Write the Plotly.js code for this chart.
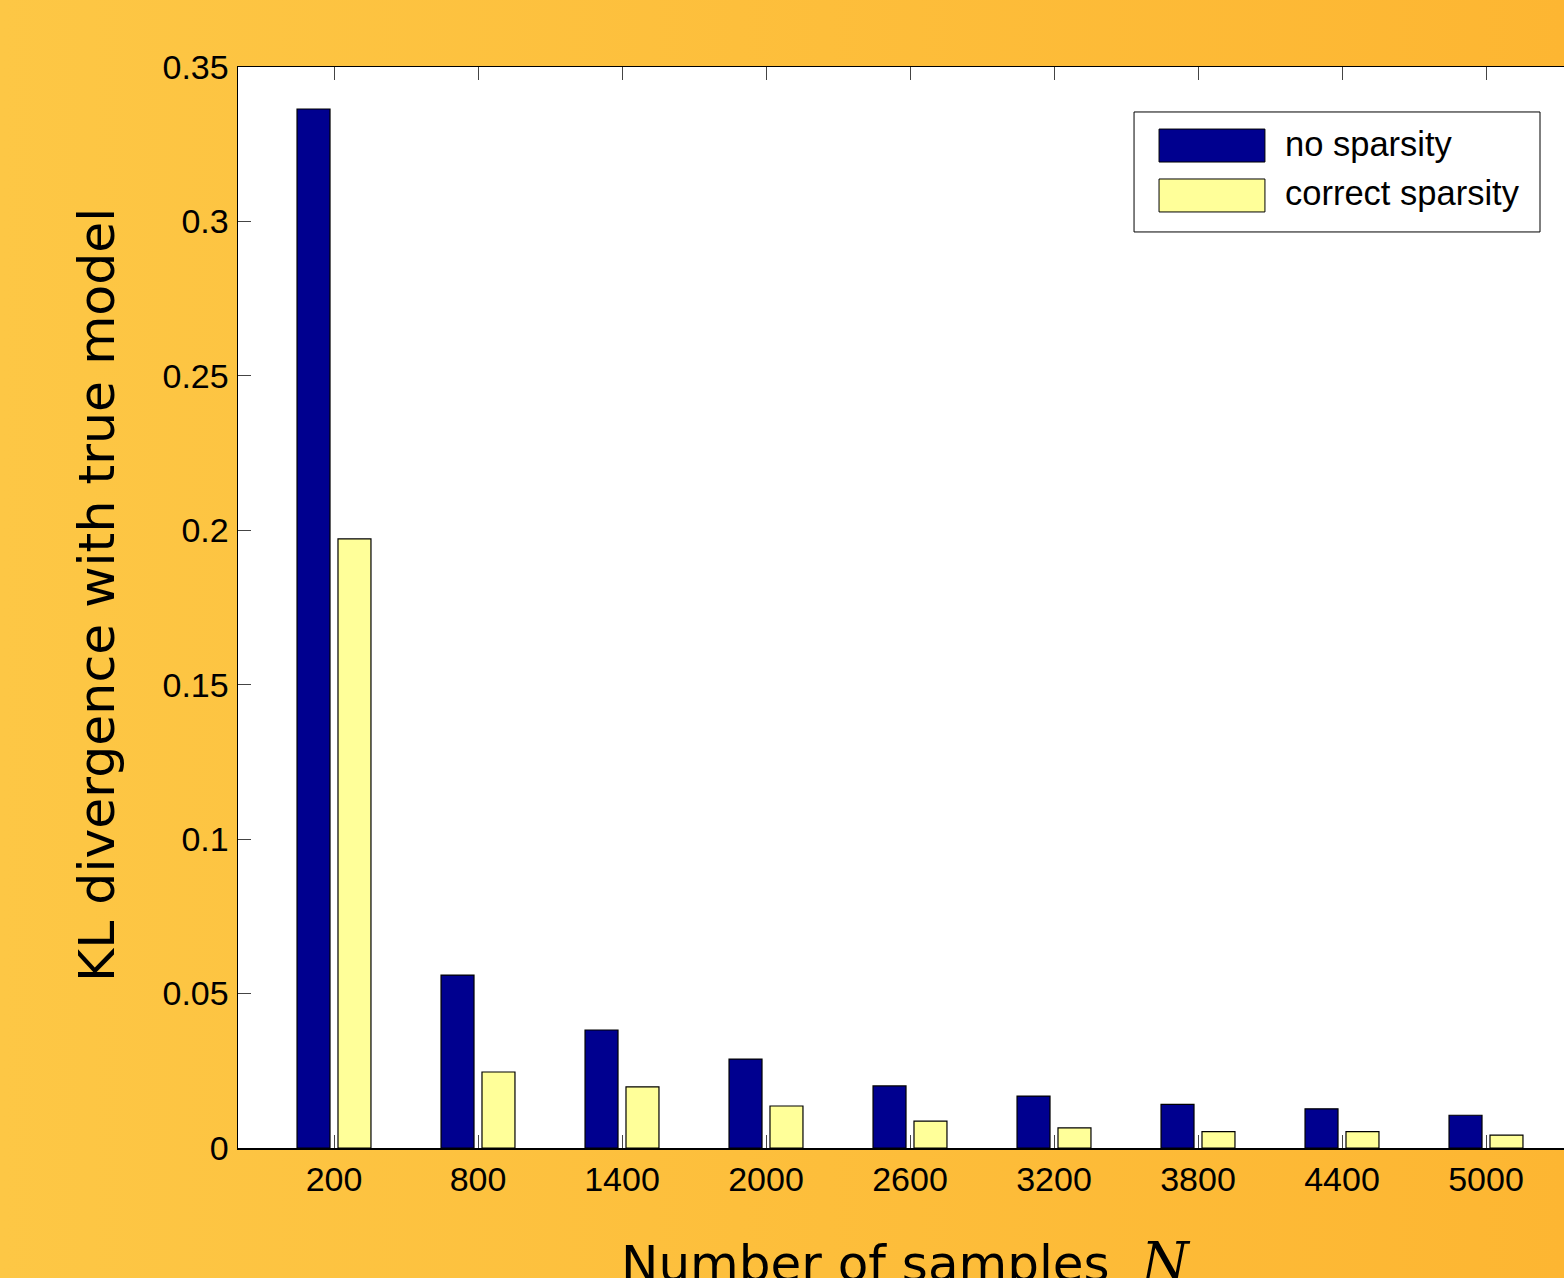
<!DOCTYPE html>
<html>
<head>
<meta charset="utf-8">
<script src="https://cdn.plot.ly/plotly-3.0.1.min.js"></script>
<style>
html, body { margin: 0; padding: 0; overflow: hidden; width: 1564px; height: 1278px;
  background: linear-gradient(to right, #FDC745, #FDB632); }
#chart { width: 1582px; height: 1278px; }
</style>
</head>
<body>
<div id="chart"></div>
<script>
// ---- data ----
const sampleSizes = [200, 800, 1400, 2000, 2600, 3200, 3800, 4400, 5000];
const noSparsity = [0.3364, 0.0560, 0.0382, 0.0288, 0.0201, 0.0168, 0.0141, 0.0127, 0.0106];
const correctSparsity = [0.1972, 0.0246, 0.0198, 0.0136, 0.0087, 0.0065, 0.0053, 0.0053, 0.0042];
const seriesNames = ['no sparsity', 'correct sparsity'];
const seriesColors = ['#00008F', '#FFFF99'];
const yTickVals = [0, 0.05, 0.1, 0.15, 0.2, 0.25, 0.3, 0.35];
const yTickText = ['0', '0.05', '0.1', '0.15', '0.2', '0.25', '0.3', '0.35'];
const xTitle = 'Number of samples  ';
const xTitleVar = 'N';
const yTitle = 'KL divergence with true model';

const traces = [noSparsity, correctSparsity].map((vals, i) => ({
  type: 'bar', x: sampleSizes, y: vals, name: seriesNames[i],
  marker: { color: seriesColors[i], line: { color: '#000000', width: 1.2 } },
  showlegend: false, hoverinfo: 'x+y'
}));

// custom legend built from series names/colours
const legendBox = { x0: 0.6667, x1: 0.96875, y0: 0.8474, y1: 0.9584 };
const swatchX = [0.6853, 0.7641];
const swatchY = [[0.9121, 0.9426], [0.8659, 0.8964]];
const labelX = 0.7775;
const labelY = [0.9285, 0.8832];

const shapes = [{
  type: 'rect', xref: 'paper', yref: 'paper',
  x0: legendBox.x0, x1: legendBox.x1, y0: legendBox.y0, y1: legendBox.y1,
  line: { color: '#000000', width: 1 }, fillcolor: '#ffffff', layer: 'above'
}];
const annotations = [];
seriesNames.forEach((nm, i) => {
  shapes.push({
    type: 'rect', xref: 'paper', yref: 'paper',
    x0: swatchX[0], x1: swatchX[1], y0: swatchY[i][0], y1: swatchY[i][1],
    line: { color: '#000000', width: 1 }, fillcolor: seriesColors[i], layer: 'above'
  });
  annotations.push({
    xref: 'paper', yref: 'paper', x: labelX, y: labelY[i],
    xanchor: 'left', yanchor: 'middle', showarrow: false, text: nm,
    font: { family: 'Liberation Sans, Arial, sans-serif', size: 34.5, color: '#000000' }
  });
});

// axis titles (placed as annotations for exact positioning)
annotations.push({
  xref: 'paper', yref: 'paper', x: 0.4963, y: -0.1055,
  xanchor: 'center', yanchor: 'middle', showarrow: false,
  text: xTitle + '<span style="font-family:\'DejaVu Serif\',serif;font-style:italic;font-size:54px">' + xTitleVar + '</span>',
  font: { family: 'DejaVu Sans, sans-serif', size: 50, color: '#000000' }
});
annotations.push({
  xref: 'paper', yref: 'paper', x: -0.1049, y: 0.5116,
  xanchor: 'center', yanchor: 'middle', showarrow: false, textangle: -90,
  text: yTitle,
  font: { family: 'DejaVu Sans, sans-serif', size: 50.5, color: '#000000' }
});

const layout = {
  width: 1582, height: 1278,
  margin: { l: 238, r: 0, t: 67, b: 130, pad: 0 },
  paper_bgcolor: 'rgba(0,0,0,0)', plot_bgcolor: '#ffffff',
  barmode: 'group', bargap: 0.431, bargroupgap: 0.195,
  font: { family: 'Liberation Sans, Arial, sans-serif', size: 34, color: '#000000' },
  xaxis: {
    range: [-200, 5400], tickvals: sampleSizes, ticktext: sampleSizes.map(String),
    ticks: 'inside', ticklen: 13, tickwidth: 1, tickcolor: '#444444',
    showline: true, linecolor: '#000000', linewidth: 1.5, mirror: 'ticks',
    showgrid: false, zeroline: false, ticklabelstandoff: 1,
    tickfont: { size: 34 }
  },
  yaxis: {
    range: [0, 0.35], tickvals: yTickVals, ticktext: yTickText,
    ticks: 'inside', ticklen: 13, tickwidth: 1, tickcolor: '#444444',
    showline: true, linecolor: '#000000', linewidth: 1.5, mirror: 'ticks',
    showgrid: false, zeroline: false, ticklabelstandoff: 1,
    tickfont: { size: 34 }
  },
  shapes: shapes, annotations: annotations
};

Plotly.newPlot('chart', traces, layout, { staticPlot: true, displayModeBar: false });
</script>
</body>
</html>
